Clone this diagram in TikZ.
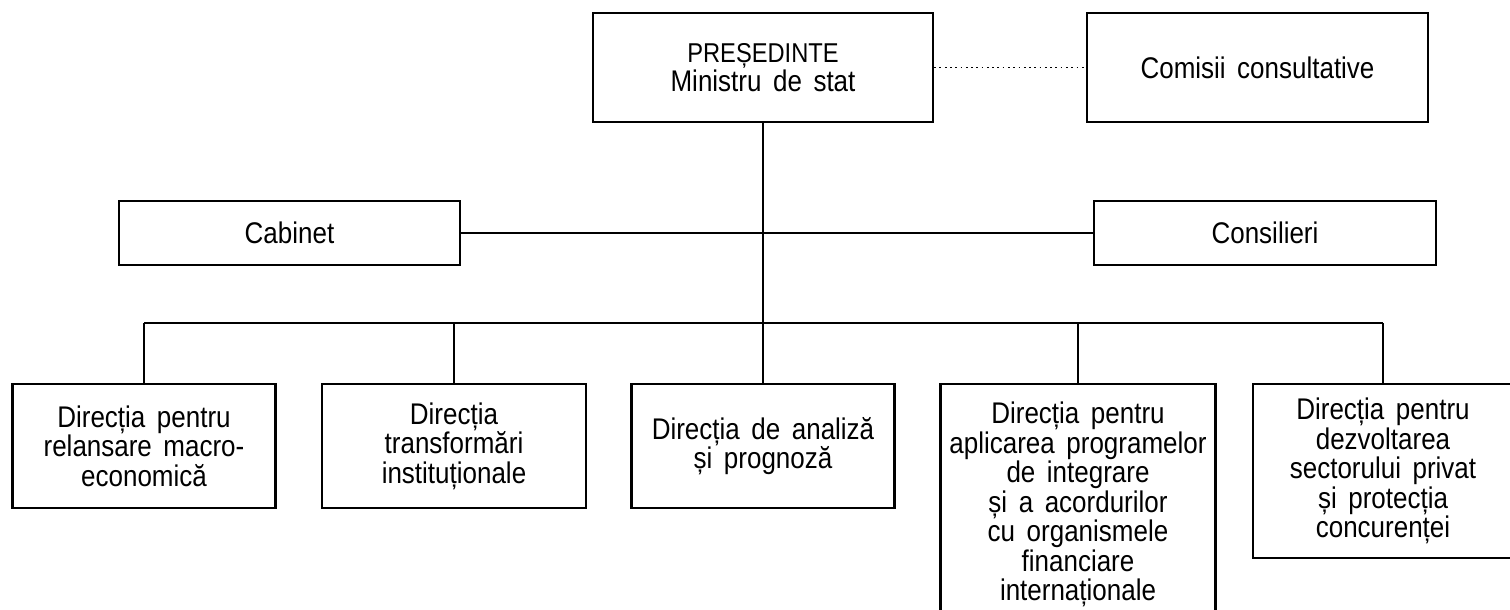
\documentclass[tikz,border=0pt]{standalone}
\usepackage{fontspec}
\setmainfont{Liberation Sans}[WordSpace=1.6, FakeStretch=0.87]

\begin{document}
\begin{tikzpicture}[x=0.02cm, y=-0.02cm,
  orgbox/.style={rectangle, draw=black, line width=1.4pt, align=center, inner sep=2pt, font=\fontsize{17}{16.8}\selectfont},
  link/.style={line width=1.1pt}]
\useasboundingbox (0,0) rectangle (1510,609);
\clip (0,0) rectangle (1510,609);

% Top level
\node[orgbox, minimum width=6.8cm, minimum height=2.18cm] (pres) at (763,67.5) {{\fontsize{15.5}{16.8}\selectfont PREȘEDINTE}\\Ministru de stat};
\node[orgbox, minimum width=6.82cm, minimum height=2.18cm] (comisii) at (1257.5,67.5) {Comisii consultative};

% Staff level
\node[orgbox, minimum width=6.82cm, minimum height=1.28cm] (cabinet) at (289.5,233) {Cabinet};
\node[orgbox, minimum width=6.84cm, minimum height=1.28cm] (consilieri) at (1265,233) {Consilieri};

% Directions
\node[orgbox, anchor=north, minimum width=5.26cm, minimum height=2.48cm] (d1) at (144,383) {Direcția pentru\\relansare macro-\\economică};
\node[orgbox, anchor=north, minimum width=5.28cm, minimum height=2.48cm] (d2) at (454,383) {Direcția\\transformări\\instituționale};
\node[orgbox, anchor=north, minimum width=5.26cm, minimum height=2.48cm] (d3) at (763,383) {Direcția de analiză\\și prognoză};
\node[orgbox, anchor=north, minimum width=5.5cm, minimum height=4.82cm] (d4) at (1078,383) {Direcția pentru\\aplicarea programelor\\de integrare\\și a acordurilor\\cu organismele\\financiare\\internaționale};
\node[orgbox, anchor=north, minimum width=5.2cm, minimum height=3.48cm] (d5) at (1383,383) {Direcția pentru\\dezvoltarea\\sectorului privat\\și protecția\\concurenței};

% Connectors
\coordinate (bus) at (763,323);
\draw[dotted, line width=1pt] (pres) -- (comisii);
\draw[link] (pres) -- (d3);
\draw[link] (cabinet) -- (consilieri);
\draw[link] (d1.north |- bus) -- (d5.north |- bus);
\foreach \d in {d1,d2,d4,d5}
  \draw[link] (\d.north) -- (\d.north |- bus);
\end{tikzpicture}
\end{document}
